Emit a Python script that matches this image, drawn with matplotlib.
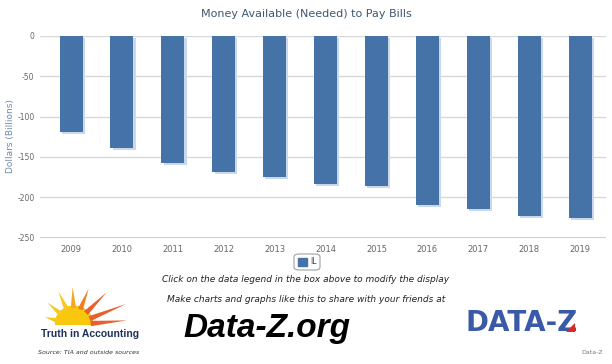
import numpy as np
import matplotlib.pyplot as plt
from matplotlib.patches import FancyBboxPatch, Rectangle, Wedge, Polygon

years = ['2009', '2010', '2011', '2012', '2013', '2014',
         '2015', '2016', '2017', '2018', '2019']
il_values = [-119, -139, -158, -169, -175, -183, -186, -209, -215, -223, -225]
y_ticks = [0, -50, -100, -150, -200, -250]

bar_color = '#4572A7'
shadow_color = '#c9d8ec'
grid_color = '#d8d8d8'

fig = plt.figure(figsize=(6.12, 3.64), dpi=100)
W, H = 612, 364

def fx(px):
    return px / W

def fy(py):
    return 1 - py / H

ax = fig.add_axes([fx(40), fy(237.7), fx(605.5) - fx(40), fy(35.7) - fy(237.7)])
x = np.arange(len(years))

# shadow first, then the bars
ax.bar(x + 0.045, il_values, width=0.45, bottom=-2.5, color=shadow_color, zorder=2)
ax.bar(x, il_values, width=0.45, color=bar_color, zorder=3)

ax.set_xlim(-0.61, 10.5)
ax.set_ylim(-250, 0)
ax.set_yticks(y_ticks)
ax.set_yticklabels([str(t) for t in y_ticks], color='#666666', fontsize=5.5)
ax.set_xticks(x)
ax.set_xticklabels(years, color='#666666', fontsize=6)
ax.tick_params(axis='both', length=0, pad=5)
ax.tick_params(axis='y', pad=4)
for t in y_ticks:
    ax.axhline(t, color=grid_color, linewidth=1, zorder=1)
ax.axhline(-250, color='#c0c8d0', linewidth=1.2, zorder=1)
for s in ax.spines.values():
    s.set_visible(False)
fig.text(fx(11), fy(136), 'Dollars (Billions)', rotation=90, ha='center', va='center',
         color='#6d8bab', fontsize=6.5)

fig.text(0.5, fy(14), 'Money Available (Needed) to Pay Bills', ha='center', va='center',
         color='#3E576F', fontsize=8)

# legend box
fig.patches.append(FancyBboxPatch((fx(294), fy(270)), fx(26), fy(254) - fy(270),
                                  boxstyle='round,pad=0,rounding_size=0.008',
                                  transform=fig.transFigure, facecolor='white',
                                  edgecolor='#a0a0a0', linewidth=0.8))
fig.patches.append(Rectangle((fx(298), fy(266)), fx(9), fy(258) - fy(266),
                             transform=fig.transFigure, color=bar_color))
fig.text(fx(310), fy(262), 'IL', ha='left', va='center', fontsize=5.5, color='#444444')

fig.text(0.5, fy(280), 'Click on the data legend in the box above to modify the display',
         ha='center', va='center', fontsize=6.5, style='italic', color='#222222')
fig.text(fx(306), fy(299), 'Make charts and graphs like this to share with your friends at',
         ha='center', va='center', fontsize=6.5, style='italic', color='#222222')
fig.text(fx(267), fy(328), 'Data-Z.org', ha='center', va='center', fontsize=24,
         family='Liberation Sans', weight='bold', style='italic', color='black')

# Truth in Accounting logo
cx, cy = 74, 325
rays = [(165, '#f7c81e', 30), (140, '#f7c81e', 35), (115, '#f7c81e', 37),
        (92, '#f5a623', 38), (68, '#ef7d22', 39), (45, '#e8612c', 46),
        (22, '#e8612c', 56), (5, '#e8612c', 53)]
for ang, col, length in rays:
    a = np.radians(ang)
    da = np.radians(9)
    r0 = 17
    tip = (cx + length * np.cos(a), cy - length * np.sin(a))
    p1 = (cx + r0 * np.cos(a - da), cy - r0 * np.sin(a - da))
    p2 = (cx + r0 * np.cos(a + da), cy - r0 * np.sin(a + da))
    pts = [(fx(px), fy(py)) for px, py in [p1, tip, p2]]
    fig.patches.append(Polygon(pts, closed=True, transform=fig.transFigure,
                               color=col, linewidth=0))
sun_ax = fig.add_axes([fx(55), fy(325), fx(93) - fx(55), fy(306) - fy(325)])
sun_ax.add_patch(Wedge((0, 0), 1, 0, 180, color='#f9c80e'))
sun_ax.set_xlim(-1, 1)
sun_ax.set_ylim(0, 1)
sun_ax.axis('off')
fig.text(fx(90), fy(334), 'Truth in Accounting', ha='center', va='center', fontsize=7.5,
         family='Liberation Sans', weight='bold', color='#1f2f5c')
fig.text(fx(38), fy(353), 'Source: TIA and outside sources', ha='left', va='center',
         fontsize=4.5, style='italic', color='#333333')

# DATA-Z logo
fig.text(fx(466), fy(323), 'DATA-Z', ha='left', va='center', fontsize=20,
         family='DejaVu Sans', weight='bold', color='#3a5aa8')
fig.patches.append(Polygon([(fx(566), fy(332)), (fx(575), fy(332)), (fx(575), fy(323))],
                           closed=True, transform=fig.transFigure, color='#d42a2a',
                           linewidth=0, zorder=5))
fig.text(fx(603), fy(352), 'Data-Z', ha='right', va='center', fontsize=4.5,
         color='#777777')

fig.savefig('out.png', dpi=100, facecolor='white')
